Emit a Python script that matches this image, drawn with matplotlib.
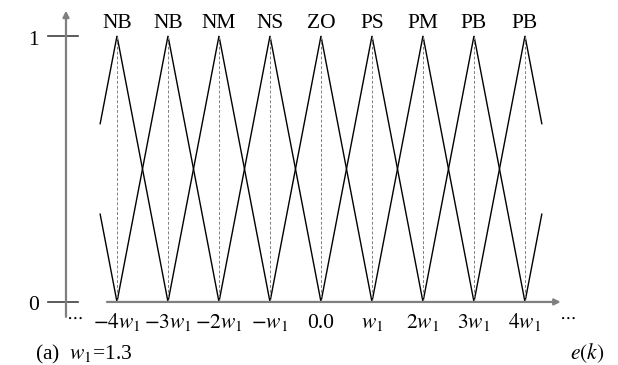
import numpy as np
import matplotlib
matplotlib.use("Agg")
import matplotlib.pyplot as plt

plt.rcParams['font.family'] = ['Liberation Serif', 'DejaVu Serif']
plt.rcParams['mathtext.fontset'] = 'stix'

# membership function centres (in units of w1) and their names
centers = [-4, -3, -2, -1, 0, 1, 2, 3, 4]
names = ['NB', 'NB', 'NM', 'NS', 'ZO', 'PS', 'PM', 'PB', 'PB']
tick_labels = [r'$-4w_1$', r'$-3w_1$', r'$-2w_1$', r'$-w_1$', '0.0',
               r'$w_1$', r'$2w_1$', r'$3w_1$', r'$4w_1$']
half_width = 1.0
# outer neighbours that only show up as short stubs at the edges
extra_centers = [-5, 5]
x_lo, x_hi = -4.33, 4.33

fig = plt.figure(figsize=(6.18, 3.65), dpi=100)
ax = fig.add_axes([0, 0, 1, 1])
ax.set_xlim(-6.294, 5.824)
ax.set_ylim(-0.237, 1.135)
ax.axis('off')

gray = '#7f7f7f'
fs = 15.5

# triangles
for k in sorted(centers + extra_centers):
    a = max(k - half_width, x_lo)
    b = min(k + half_width, x_hi)
    if a >= b:
        continue
    xs = [a] + ([k] if a < k < b else []) + [b]
    xs = np.array(xs)
    ys = 1 - np.abs(xs - k) / half_width
    ax.plot(xs, ys, color='black', lw=1.0, solid_joinstyle='miter')

# dashed drop lines from the peaks
for k in centers:
    ax.plot([k, k], [0, 1], color=gray, lw=0.7, ls=(0, (3, 2)))

# axes with arrows
ax.annotate('', xy=(-5.0, 1.095), xytext=(-5.0, -0.056),
            arrowprops=dict(arrowstyle='-|>', color=gray, lw=1.6,
                            mutation_scale=9, shrinkA=0, shrinkB=0))
ax.annotate('', xy=(4.70, 0), xytext=(-4.196, 0),
            arrowprops=dict(arrowstyle='-|>', color=gray, lw=1.6,
                            mutation_scale=9, shrinkA=0, shrinkB=0))

# y ticks
for yv, lab, base in [(1, '1', 0.966), (0, '0', -0.030)]:
    ax.plot([-5.353, -4.765], [yv, yv], color='#404040', lw=1.2)
    ax.text(-5.63, base, lab, ha='center', va='baseline', fontsize=fs)

# names above peaks, tick labels under the axis
for k, nm, tl in zip(centers, names, tick_labels):
    ax.text(k, 1.030, nm, ha='center', va='baseline', fontsize=fs)
    ax.text(k, -0.098, tl, ha='center', va='baseline', fontsize=fs)

ax.text(-4.84, -0.056, r'$\cdots$', ha='center', va='center', fontsize=13)
ax.text(4.84, -0.056, r'$\cdots$', ha='center', va='center', fontsize=13)

ax.text(-5.61, -0.218, r'(a)  $w_1$=1.3', ha='left', va='baseline', fontsize=fs)
ax.text(5.22, -0.214, r'$e(k)$', ha='center', va='baseline', fontsize=fs)

fig.savefig('out.png', dpi=100)
